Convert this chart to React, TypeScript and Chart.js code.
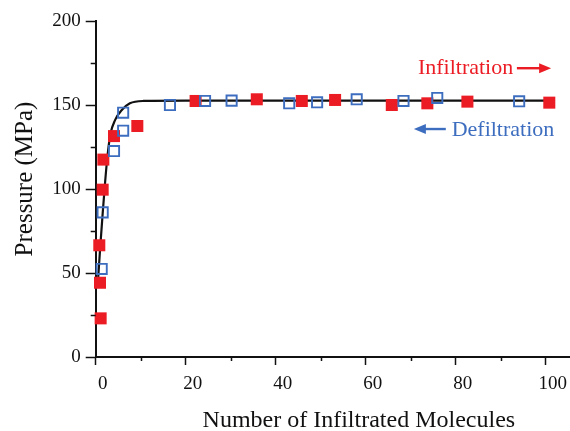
import React, { useEffect, useRef } from 'react';
import { Chart, registerables } from 'chart.js';

Chart.register(...registerables);

// ---- data ----
const infiltrationX = [1.1, 0.96, 0.8, 1.55, 1.7, 4.07, 9.25, 22.2, 35.8, 45.8, 53.2, 65.8, 73.7, 82.6, 100.8];
const infiltrationY = [23, 44.2, 66.5, 99.6, 117.5, 131.5, 137.5, 152.4, 153.4, 152.4, 153, 150, 151, 152, 151.4];

const defiltrationX = [1.33, 1.55, 4.07, 6.1, 6.1, 16.5, 24.3, 30.2, 43, 49.2, 58, 68.4, 75.9, 94.1];
const defiltrationY = [52.4, 86.1, 122.6, 134.7, 145.4, 150, 152.4, 152.6, 151, 151.6, 153.4, 152.4, 154.2, 152.2];

const fitX = [0.5, 0.96, 1.55, 2.07, 2.6, 3.3, 4.3, 5.8, 7.6, 10.6, 20, 101.5];
const fitY = [45, 63.7, 85.5, 103.4, 119.2, 133, 141, 147, 151, 152.4, 152.6, 152.6];

const xMajorTicks = [0, 20, 40, 60, 80, 100];
const xMinorTicks = [10, 30, 50, 70, 90];
const yMajorTicks = [0, 50, 100, 150, 200];
const yMinorTicks = [25, 75, 125, 175];

const xTitle = 'Number of Infiltrated Molecules';
const yTitle = 'Pressure (MPa)';
const infLabel = 'Infiltration';
const defLabel = 'Defiltration';

const RED = '#ec1c24';
const BLUE = '#3d6dbf';
const INK = '#111111';
const FONT = '"Liberation Serif", "Times New Roman", Times, serif';

export default function App() {
  const ref = useRef<HTMLCanvasElement>(null);

  useEffect(() => {
    if (!ref.current) return;

    const decor = {
      id: 'decor',
      afterDraw(chart: any) {
        const { ctx, chartArea, scales } = chart;
        const xs = scales.x;
        const ys = scales.y;
        ctx.save();
        // minor ticks
        ctx.strokeStyle = INK;
        ctx.lineWidth = 1.5;
        ctx.beginPath();
        for (const v of xMinorTicks) {
          const px = Math.round(xs.getPixelForValue(v)) + 0.5;
          ctx.moveTo(px, chartArea.bottom);
          ctx.lineTo(px, chartArea.bottom + 4);
        }
        for (const v of yMinorTicks) {
          const py = Math.round(ys.getPixelForValue(v)) + 0.5;
          ctx.moveTo(chartArea.left - 5, py);
          ctx.lineTo(chartArea.left, py);
        }
        ctx.stroke();

        // axis titles
        ctx.fillStyle = INK;
        ctx.font = `24px ${FONT}`;
        ctx.textAlign = 'center';
        ctx.textBaseline = 'alphabetic';
        ctx.fillText(xTitle, (chartArea.left + chartArea.right) / 2 + 26, 427);
        ctx.save();
        ctx.font = `25px ${FONT}`;
        ctx.translate(32, (chartArea.top + chartArea.bottom) / 2 - 10);
        ctx.rotate(-Math.PI / 2);
        ctx.fillText(yTitle, 0, 0);
        ctx.restore();

        // annotations
        const arrow = (x0: number, x1: number, yv: number, color: string) => {
          const a = xs.getPixelForValue(x0);
          const b = xs.getPixelForValue(x1);
          const y = ys.getPixelForValue(yv);
          const dir = Math.sign(b - a);
          ctx.strokeStyle = color;
          ctx.fillStyle = color;
          ctx.lineWidth = 2.4;
          ctx.beginPath();
          ctx.moveTo(a, y);
          ctx.lineTo(b - dir * 8, y);
          ctx.stroke();
          ctx.beginPath();
          ctx.moveTo(b, y);
          ctx.lineTo(b - dir * 12, y - 5);
          ctx.lineTo(b - dir * 12, y + 5);
          ctx.closePath();
          ctx.fill();
        };
        ctx.font = `22px ${FONT}`;
        ctx.textAlign = 'left';
        ctx.fillStyle = RED;
        ctx.fillText(infLabel, xs.getPixelForValue(71.6), ys.getPixelForValue(168.5));
        arrow(93.6, 101.2, 171.9, RED);
        ctx.fillStyle = BLUE;
        ctx.font = `22px ${FONT}`;
        ctx.fillText(defLabel, xs.getPixelForValue(79.1), ys.getPixelForValue(131.5));
        arrow(77.8, 70.7, 135.7, BLUE);
        ctx.restore();
      },
    };

    const tickFont = { family: FONT, size: 19 };

    const chart = new Chart(ref.current, {
      type: 'scatter',
      data: {
        datasets: [
          {
            label: 'fit',
            data: fitX.map((x, i) => ({ x, y: fitY[i] })),
            showLine: true,
            borderColor: INK,
            borderWidth: 2.2,
            pointRadius: 0,
            cubicInterpolationMode: 'monotone',
            order: 3,
            clip: false,
          } as any,
          {
            label: infLabel,
            data: infiltrationX.map((x, i) => ({ x, y: infiltrationY[i] })),
            pointStyle: 'rect',
            pointRadius: 8.5,
            backgroundColor: RED,
            borderColor: RED,
            borderWidth: 0,
            order: 2,
            clip: false,
          } as any,
          {
            label: defLabel,
            data: defiltrationX.map((x, i) => ({ x, y: defiltrationY[i] })),
            pointStyle: 'rect',
            pointRadius: 7.2,
            backgroundColor: 'rgba(255,255,255,0)',
            borderColor: BLUE,
            borderWidth: 1.9,
            order: 1,
            clip: false,
          } as any,
        ],
      },
      options: {
        animation: false,
        responsive: false,
        devicePixelRatio: 1,
        layout: { autoPadding: false, padding: { top: 21, left: 0, right: 0, bottom: 0 } },
        plugins: { legend: { display: false }, tooltip: { enabled: false } },
        scales: {
          x: {
            type: 'linear',
            min: 0,
            max: 105.4,
            afterFit: (s: any) => { s.height = 74; s.paddingLeft = 0; s.paddingRight = 0; },
            afterBuildTicks: (s: any) => { s.ticks = xMajorTicks.map((v) => ({ value: v })); },
            grid: { drawOnChartArea: false, drawTicks: true, tickLength: 8, tickColor: INK, tickWidth: 1.5 },
            border: { display: true, color: INK, width: 2 },
            ticks: { font: tickFont, color: INK, padding: 8, labelOffset: 7, maxRotation: 0, autoSkip: false },
          },
          y: {
            type: 'linear',
            min: 0,
            max: 200,
            afterFit: (s: any) => { s.width = 95.7; s.paddingTop = 0; s.paddingBottom = 0; },
            afterBuildTicks: (s: any) => { s.ticks = yMajorTicks.map((v) => ({ value: v })); },
            grid: { drawOnChartArea: false, drawTicks: true, tickLength: 10, tickColor: INK, tickWidth: 1.5 },
            border: { display: true, color: INK, width: 2 },
            ticks: { font: tickFont, color: INK, padding: 5, autoSkip: false },
          },
        },
      },
      plugins: [decor],
    } as any);

    return () => chart.destroy();
  }, []);

  return (
    <div style={{ position: 'fixed', left: 0, top: 0, width: 570, height: 431, background: '#fff' }}>
      <canvas ref={ref} width={570} height={431} style={{ width: 570, height: 431, display: 'block' }} />
    </div>
  );
}
